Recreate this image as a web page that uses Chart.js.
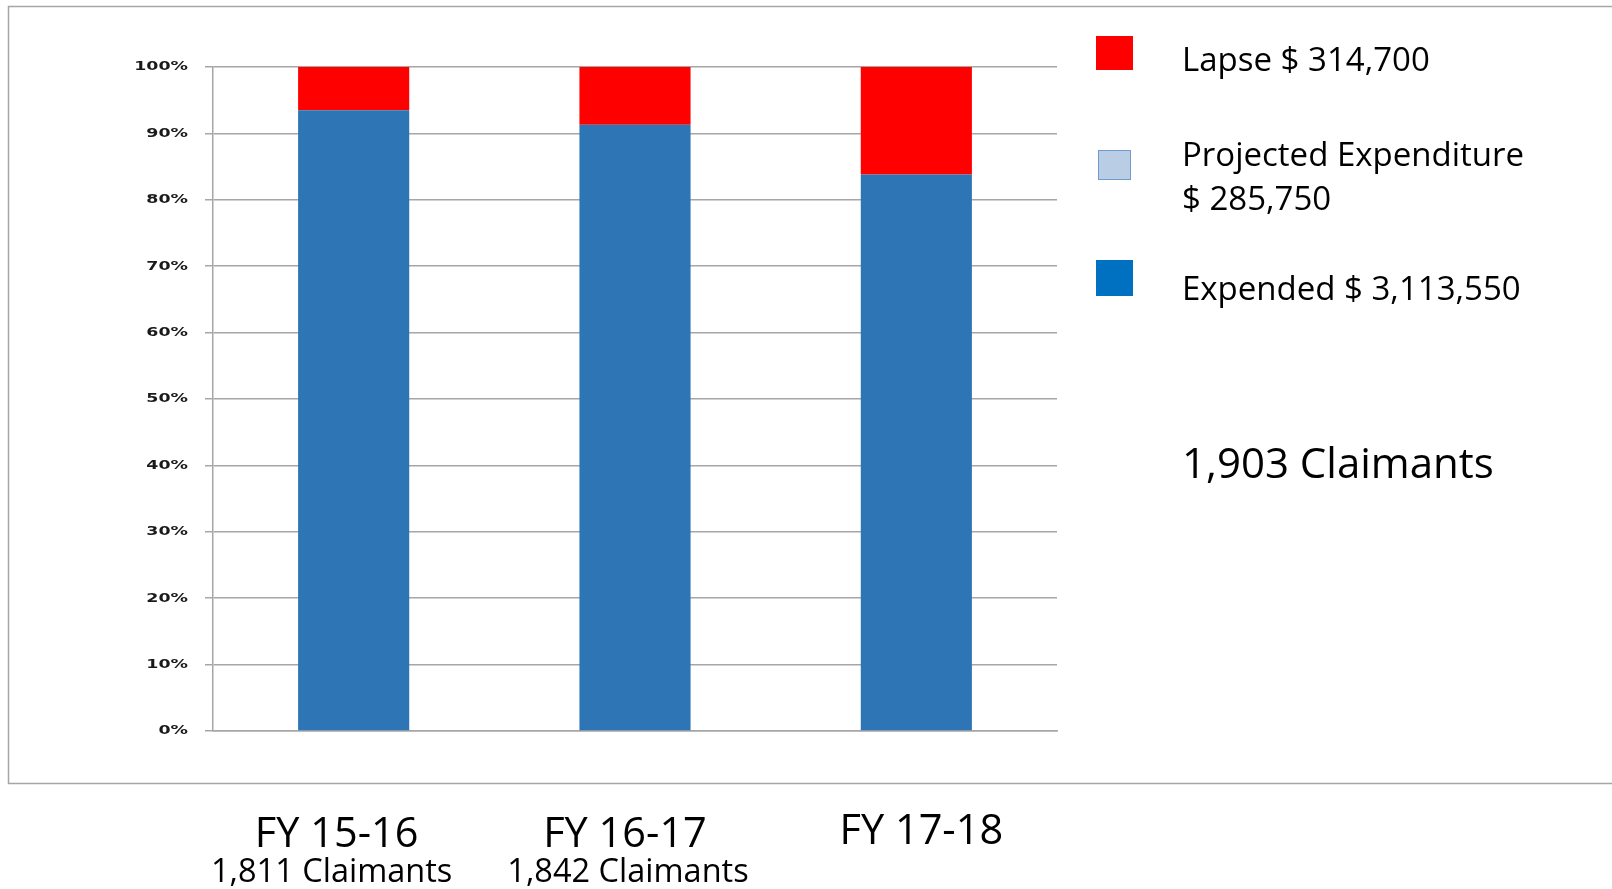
<!DOCTYPE html>
<html>
<head>
<meta charset="utf-8">
<script src="https://cdn.jsdelivr.net/npm/chart.js@4/dist/chart.umd.min.js"></script>
<style>
  body { margin: 0; background: #fff; }
  #wrap { width: 1612px; height: 889px; position: relative; }
</style>
</head>
<body>
<div id="wrap"><canvas id="budgetChart" width="1612" height="889"></canvas></div>
<script>
// Claimant funding by fiscal year (share of allocation, %)
const years = ['FY 15-16', 'FY 16-17', 'FY 17-18'];
const claimants = ['1,811 Claimants', '1,842 Claimants', ''];
const expended = [93.5, 91.3, 83.8];
const projected = [0, 0, 0];
const lapse = [6.5, 8.7, 16.2];
const legendText = {
  lapse: ['Lapse $ 314,700'],
  projected: ['Projected Expenditure', '$ 285,750'],
  expended: ['Expended $ 3,113,550']
};
const currentClaimants = '1,903 Claimants';

const TEXT_FONT = '"Open Sans", "Noto Sans", sans-serif';
const GRID = '#a6a6a6';

const overlay = {
  id: 'overlay',
  beforeDraw(chart) {
    const ctx = chart.ctx;
    ctx.save();
    ctx.strokeStyle = GRID;
    ctx.lineWidth = 1.5;
    ctx.strokeRect(8.5, 6.5, 1700, 777);
    ctx.restore();
  },
  afterDraw(chart) {
    const ctx = chart.ctx;
    const y = chart.scales.y, x = chart.scales.x;
    ctx.save();
    // y tick labels, stretched like the original
    ctx.fillStyle = '#1a1a1a';
    ctx.font = 'bold 13px "DejaVu Sans"';
    ctx.textAlign = 'right';
    ctx.textBaseline = 'middle';
    for (const t of y.ticks) {
      ctx.save();
      ctx.translate(188, y.getPixelForValue(t.value));
      ctx.scale(1.34, 1);
      ctx.fillText(t.value + '%', 0, 0);
      ctx.restore();
    }
    // category labels under the frame
    ctx.fillStyle = '#000';
    ctx.textAlign = 'center';
    const dx = [-17, -10, 5];
    years.forEach((yr, i) => {
      const cx = x.getPixelForValue(i) + dx[i];
      ctx.font = '41.5px ' + TEXT_FONT;
      ctx.fillText(yr, cx, claimants[i] ? 835 : 832);
      if (claimants[i]) {
        ctx.font = '32.5px ' + TEXT_FONT;
        ctx.fillText(claimants[i], cx + (i === 0 ? -5 : 3), 873);
      }
    });
    // legend
    ctx.textAlign = 'left';
    ctx.font = '33px ' + TEXT_FONT;
    const ds = chart.data.datasets;
    const items = [
      { d: ds[2], text: legendText.lapse, box: [1096, 36, 37, 34], ty: [62] },
      { d: ds[1], text: legendText.projected, box: [1098, 150, 33, 30], ty: [157, 201] },
      { d: ds[0], text: legendText.expended, box: [1096, 260, 37, 36], ty: [291] }
    ];
    for (const it of items) {
      const [bx, by, bw, bh] = it.box;
      ctx.fillStyle = it.d.legendFill;
      ctx.fillRect(bx, by, bw, bh);
      if (it.d.legendBorder) {
        ctx.strokeStyle = it.d.legendBorder;
        ctx.lineWidth = 1;
        ctx.strokeRect(bx + 0.5, by + 0.5, bw - 1, bh - 1);
      }
      ctx.fillStyle = '#000';
      it.text.forEach((line, k) => ctx.fillText(line, 1182, it.ty[k]));
    }
    ctx.font = '42px ' + TEXT_FONT;
    ctx.fillText(currentClaimants, 1182, 466);
    ctx.restore();
  }
};

new Chart(document.getElementById('budgetChart'), {
  type: 'bar',
  data: {
    labels: years,
    datasets: [
      { label: 'Expended', data: expended, backgroundColor: '#2e75b6', legendFill: '#0070c0' },
      { label: 'Projected Expenditure', data: projected, backgroundColor: '#b9cde5', legendFill: '#b9cde5', legendBorder: '#6f9bd1' },
      { label: 'Lapse', data: lapse, backgroundColor: '#ff0000', legendFill: '#ff0000' }
    ]
  },
  options: {
    responsive: false,
    animation: false,
    barPercentage: 0.395,
    categoryPercentage: 1,
    layout: { padding: { left: 205, right: 555, top: 67, bottom: 150 } },
    plugins: { legend: { display: false }, tooltip: { enabled: false } },
    scales: {
      x: {
        stacked: true,
        grid: { display: false },
        border: { color: GRID, width: 1.5 },
        ticks: { display: false }
      },
      y: {
        stacked: true,
        min: 0, max: 100,
        ticks: { display: false, stepSize: 10 },
        grid: { color: GRID, lineWidth: 1.5, tickLength: 8 },
        border: { color: GRID, width: 1.5 }
      }
    }
  },
  plugins: [overlay]
});
</script>
</body>
</html>
